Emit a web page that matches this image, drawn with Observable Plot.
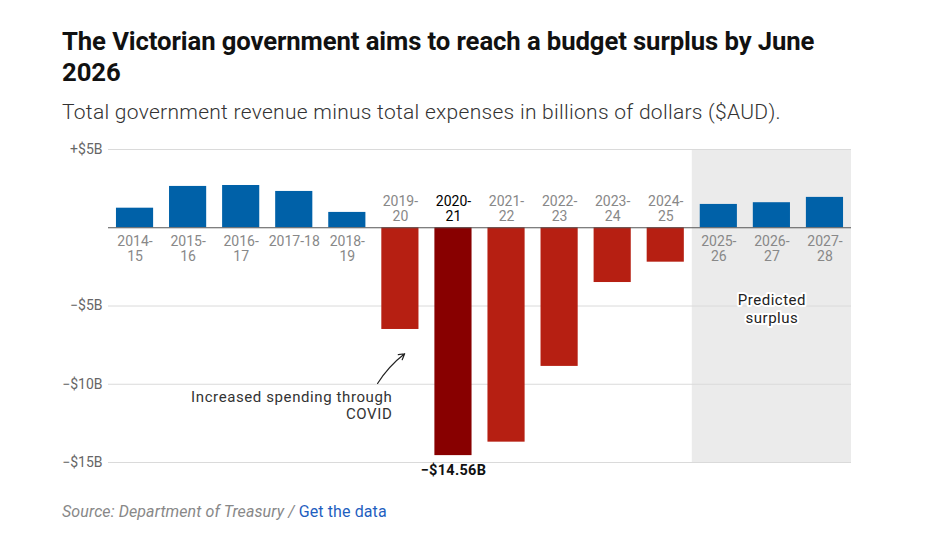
<!DOCTYPE html>
<html><head><meta charset="utf-8">
<script src="https://cdn.jsdelivr.net/npm/d3@7"></script>
<script src="https://cdn.jsdelivr.net/npm/@observablehq/plot@0.6"></script>
<style>
body{margin:0;background:#fff;width:937px;height:537px;position:relative;overflow:hidden;font-family:Roboto,sans-serif}
#title{position:absolute;left:62px;top:26px;font:700 25.7px/31px "Roboto",sans-serif;color:#111;white-space:nowrap;letter-spacing:-0.1px}
#subtitle{position:absolute;left:62px;top:99px;font:300 21px/26px "Roboto",sans-serif;color:#333;white-space:nowrap;letter-spacing:0.28px}
#chart{position:absolute;left:62px;top:138px}
#source{position:absolute;left:62px;top:502px;font:16px/20px "Roboto",sans-serif;color:#888;letter-spacing:0.1px}
#source i{font-style:italic}
#source a{color:#1f5fbf;text-decoration:none}
.ls6{letter-spacing:0.6px}
.ls5{letter-spacing:0.5px}
.ls3{letter-spacing:0.3px}
</style>
</head><body>
<div id="title">The Victorian government aims to reach a budget surplus by June<br>2026</div>
<div id="subtitle">Total government revenue minus total expenses in billions of dollars ($AUD).</div>
<div id="chart"></div>
<div id="source"><i>Source: Department of Treasury / </i><a>Get the data</a></div>
<script>
const years = ["2014-15","2015-16","2016-17","2017-18","2018-19","2019-20","2020-21","2021-22","2022-23","2023-24","2024-25","2025-26","2026-27","2027-28"];
const yearLabels = ["2014-\n15","2015-\n16","2016-\n17","2017-18","2018-\n19","2019-\n20","2020-\n21","2021-\n22","2022-\n23","2023-\n24","2024-\n25","2025-\n26","2026-\n27","2027-\n28"];
const values = [1.25, 2.64, 2.70, 2.32, 0.98, -6.5, -14.56, -13.7, -8.86, -3.5, -2.2, 1.49, 1.6, 1.94];
const yTicks = [5, -5, -10, -15];
const yDomain = [-15, 5];
const highlightYear = "2020-21";
const forecastYears = ["2025-26","2026-27","2027-28"];
const forecastLabel = "Predicted\nsurplus";
const covidNote = "Increased spending through\nCOVID";
const covidNoteAnchor = {year: "2019-20", y: -10.3};
const covidArrow = {x1: 4.57, y1: -9.95, x2: 5.08, y2: -8.05};

const colors = {pos: "#0061a8", neg: "#b61f12", highlight: "#880000", shade: "#ebebeb"};

const data = years.map((year, i) => ({year, i, value: values[i], label: yearLabels[i]}));
const idx = y => years.indexOf(y);
const fmt = v => (v < 0 ? "\u2212" : "+") + "$" + Math.abs(v) + "B";
const fill = d => d.value > 0 ? colors.pos : (d.year === highlightYear ? colors.highlight : colors.neg);
const minRow = data.reduce((a, b) => b.value < a.value ? b : a);
const forecastSpan = [{x1: idx(forecastYears[0]) - 0.5, x2: idx(forecastYears[forecastYears.length - 1]) + 0.5}];

const chart = Plot.plot({
  width: 789,
  height: 342,
  marginLeft: 46,
  marginRight: 0,
  marginTop: 11,
  marginBottom: 18,
  style: {fontFamily: "Roboto, sans-serif", fontSize: "14px", background: "transparent"},
  x: {domain: [-0.5, years.length - 0.5], axis: null},
  y: {domain: yDomain},
  marks: [
    Plot.rect(forecastSpan, {x1: "x1", x2: "x2", y1: yDomain[0], y2: yDomain[1], fill: colors.shade}),
    Plot.ruleY(yTicks, {stroke: "#dadada", strokeWidth: 1}),
    Plot.rectY(data, {x1: d => d.i - 0.35, x2: d => d.i + 0.35, y: "value", fill}),
    Plot.ruleY([0], {stroke: "#555", strokeWidth: 1}),
    Plot.axisY(yTicks, {tickSize: 0, tickPadding: 6, tickFormat: fmt, fill: "#666", fontSize: 14}),
    Plot.text(data.filter(d => d.value > 0), {x: "i", y: 0, text: "label", lineAnchor: "top", dy: 7, lineHeight: 1.08, fill: "#888", fontSize: 14}),
    Plot.text(data.filter(d => d.value < 0), {x: "i", y: 0, text: "label", lineAnchor: "bottom", dy: -7, lineHeight: 1.08,
      fill: d => d.year === highlightYear ? "#000" : "#888", fontWeight: d => d.year === highlightYear ? "bold" : "normal", fontSize: 14}),
    Plot.text([minRow], {x: "i", y: "value", text: d => fmt(d.value), dy: 15, fill: "#111", fontWeight: "bold", fontSize: 14.5, ariaDescription: "min-label"}),
    Plot.text([forecastLabel], {x: (forecastSpan[0].x1 + forecastSpan[0].x2) / 2, y: -4.1, text: d => d, lineAnchor: "top", lineHeight: 1.2,
      fill: "#222", fontSize: 15, stroke: "white", strokeWidth: 4, ariaDescription: "forecast-note"}),
    Plot.text([covidNote], {x: idx(covidNoteAnchor.year), y: covidNoteAnchor.y, text: d => d, lineAnchor: "top", textAnchor: "end", dx: -8,
      lineHeight: 1.18, fill: "#333", fontSize: 15, ariaDescription: "covid-note"}),
    Plot.arrow([covidArrow], {x1: "x1", y1: "y1", x2: "x2", y2: "y2", bend: 10, stroke: "#222", strokeWidth: 1.2, headLength: 8})
  ]
});
const spacing = {"covid-note": "ls6", "forecast-note": "ls5", "min-label": "ls3"};
for (const [desc, cls] of Object.entries(spacing)) {
  d3.select(chart).selectAll(`g[aria-description="${desc}"] text`).classed(cls, true);
}
document.getElementById("chart").appendChild(chart);
</script>
</body></html>
